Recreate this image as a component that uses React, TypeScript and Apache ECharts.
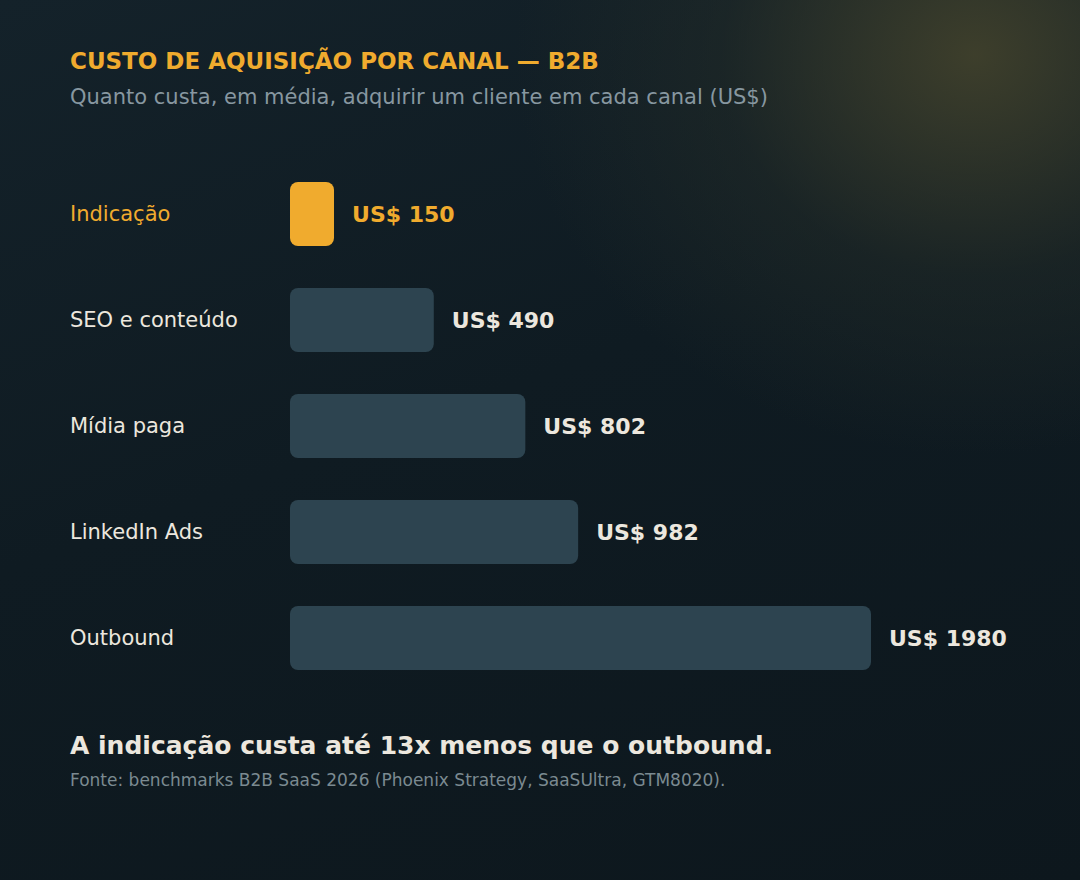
import { useEffect, useRef } from "react";
import * as echarts from "echarts";

const channels = ["Indicação", "SEO e conteúdo", "Mídia paga", "LinkedIn Ads", "Outbound"];
const costs = [150, 490, 802, 982, 1980];
const highlight = "Indicação";

const FONT = "'DejaVu Sans', sans-serif";
const ORANGE = "#f0ab2e";
const LIGHT = "#ece7de";
const MUTED = "#8797a0";

export default function App() {
  const ref = useRef<HTMLDivElement | null>(null);

  useEffect(() => {
    if (!ref.current) return;
    const chart = echarts.init(ref.current, null, { renderer: "svg" });

    const options: echarts.EChartsOption = {
      animation: false,
      backgroundColor: "transparent",
      grid: {
        left: 290,
        top: 161,
        width: 581,
        height: 530,
        containLabel: false,
        outerBoundsMode: "none",
      } as any,
      xAxis: {
        type: "value",
        min: 0,
        max: 1980,
        show: false,
      },
      yAxis: {
        type: "category",
        inverse: true,
        data: channels,
        axisLine: { show: false },
        axisTick: { show: false },
        axisLabel: {
          margin: 20,
          formatter: (v: string) => (v === highlight ? `{hi|${v}}` : `{lo|${v}}`),
          rich: {
            hi: { width: 200, align: "left", color: ORANGE, fontFamily: FONT, fontSize: 21 },
            lo: { width: 200, align: "left", color: LIGHT, fontFamily: FONT, fontSize: 21 },
          },
        },
      },
      series: [
        {
          type: "bar",
          barWidth: 64,
          data: costs.map((v, i) => ({
            value: v,
            itemStyle: {
              color: channels[i] === highlight ? ORANGE : "#2d4450",
              borderRadius: 8,
            },
            label: { color: channels[i] === highlight ? ORANGE : LIGHT },
          })),
          label: {
            show: true,
            position: "right",
            distance: 18,
            formatter: "US$ {c}",
            fontFamily: FONT,
            fontSize: 22,
            fontWeight: "bold",
          },
        },
      ],
      graphic: [
        {
          type: "text",
          left: 70,
          top: 49,
          style: {
            text: "CUSTO DE AQUISIÇÃO POR CANAL — B2B",
            fill: ORANGE,
            font: `bold 23px ${FONT}`,
          },
        },
        {
          type: "text",
          left: 70,
          top: 86,
          style: {
            text: "Quanto custa, em média, adquirir um cliente em cada canal (US$)",
            fill: MUTED,
            font: `21px ${FONT}`,
          },
        },
        {
          type: "text",
          left: 70,
          top: 733,
          style: {
            text: "A indicação custa até 13x menos que o outbound.",
            fill: LIGHT,
            font: `bold 25px ${FONT}`,
          },
        },
        {
          type: "text",
          left: 70,
          top: 771,
          style: {
            text: "Fonte: benchmarks B2B SaaS 2026 (Phoenix Strategy, SaaSUltra, GTM8020).",
            fill: "#7b8a91",
            font: `17px ${FONT}`,
          },
        },
      ],
    };

    chart.setOption(options);
    return () => chart.dispose();
  }, []);

  return (
    <div
      style={{
        position: "fixed",
        left: 0,
        top: 0,
        width: 1080,
        height: 880,
        background:
          "radial-gradient(ellipse 460px 400px at 975px 55px, rgba(66,66,44,0.9), rgba(38,46,40,0.45) 55%, rgba(15,26,33,0) 100%), linear-gradient(160deg, #14222a 0%, #0f1b22 45%, #0d171d 100%)",
      }}
    >
      <div ref={ref} style={{ width: 1080, height: 880 }} />
    </div>
  );
}
